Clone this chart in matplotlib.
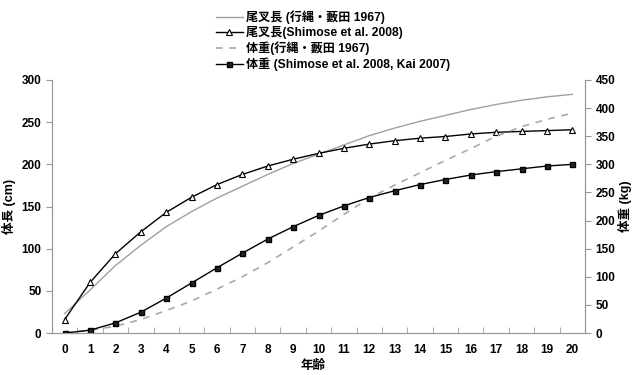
import matplotlib
matplotlib.use('Agg')
import matplotlib.pyplot as plt

plt.rcParams['font.family'] = ['Liberation Sans', 'Noto Sans CJK JP']
plt.rcParams['font.weight'] = 'bold'

ages = list(range(21))

# 尾叉長 (cm)
fl_1967 = [23, 51, 80, 104, 126, 144, 160, 174, 188, 201, 212,
           223, 234, 243, 251, 258, 265, 271, 276, 280, 283]
fl_shimose = [16, 60, 94, 120, 143, 161, 176, 188, 198, 206, 213,
              219, 224, 228, 231, 233, 236, 238, 239, 240, 241]

# 体重 (kg)
bw_1967 = [0, 5, 12, 24, 40, 57, 78, 100, 125, 153, 181,
           211, 240, 263, 285, 307, 328, 350, 367, 380, 391]
bw_shimose = [0, 5, 18, 37, 62, 89, 116, 142, 167, 189, 209,
              226, 241, 253, 264, 273, 281, 287, 292, 297, 300]

labels = ['尾叉長 (行縄・藪田 1967)', '尾叉長(Shimose et al. 2008)',
          '体重(行縄・藪田 1967)', '体重 (Shimose et al. 2008, Kai 2007)']

fig = plt.figure(figsize=(6.39, 3.75), dpi=100)
ax = fig.add_axes([52 / 639, 42 / 375, 533 / 639, 253 / 375])
ax2 = ax.twinx()

l1, = ax.plot(ages, fl_1967, color='#a0a0a0', lw=1.0)
l2, = ax.plot(ages, fl_shimose, color='black', lw=1.0, marker='^',
              markersize=5, markerfacecolor='white', markeredgecolor='black',
              markeredgewidth=0.8)
l3, = ax2.plot(ages, bw_1967, color='#a8a8a8', lw=1.2, ls=(0, (4, 4)))
l4, = ax2.plot(ages, bw_shimose, color='black', lw=1.0, marker='s',
               markersize=3.6, markerfacecolor='#222222', markeredgecolor='black')

ax.set_xlim(-0.5, 20.5)
ax.set_ylim(0, 300)
ax2.set_ylim(0, 450)
ax.set_yticks(range(0, 301, 50))
ax2.set_yticks(range(0, 451, 50))
ax.set_xticks(ages)
ax.set_xticks([a - 0.5 for a in ages] + [20.5], minor=True)
ax.tick_params(axis='x', which='major', length=0, labelsize=8.5, pad=8)
ax.tick_params(axis='x', which='minor', length=4, color='#999999', direction='in')
ax.tick_params(axis='y', length=4, color='#999999', labelsize=8.5)
ax2.tick_params(axis='y', length=4, color='#999999', labelsize=8.5)

for a in (ax, ax2):
    a.spines['top'].set_visible(False)
    for s in ('left', 'right', 'bottom'):
        a.spines[s].set_color('#999999')

ax.set_xlabel('年齢', fontsize=9, fontweight='bold', labelpad=3, x=0.49)
ax.set_ylabel('体長 (cm)', fontsize=9, fontweight='bold', labelpad=4)
ax2.set_ylabel('体重 (kg)', fontsize=9, fontweight='bold', labelpad=2)

fig.legend([l1, l2, l3, l4], labels, loc='upper left',
           bbox_to_anchor=(210 / 639, 1 - 4 / 375), frameon=False,
           handlelength=2.2, handletextpad=0.3,
           labelspacing=0.2, borderpad=0, prop={'weight': 'bold', 'size': 8.7})

fig.savefig('out.png', dpi=100)
